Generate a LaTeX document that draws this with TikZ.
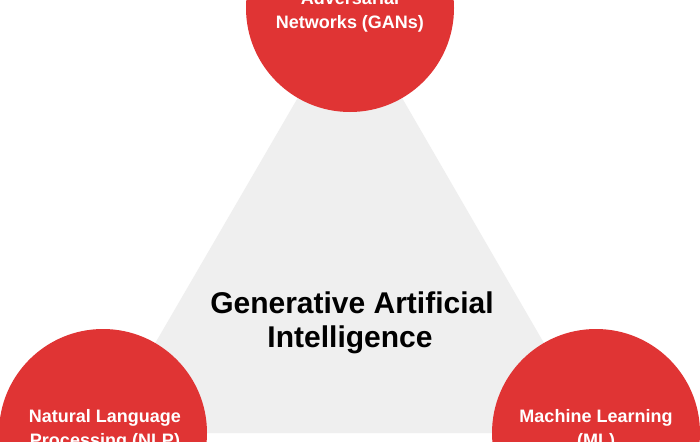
\documentclass[tikz,border=0pt]{standalone}
\usepackage{fontspec}
\setmainfont{Liberation Sans}
\definecolor{redc}{HTML}{E03434}
\definecolor{grayc}{HTML}{EFEFEF}
\begin{document}
\begin{tikzpicture}[x=1pt,y=-1pt,
  bubble/.style={circle,fill=redc,minimum size=208pt,inner sep=0pt},
  btext/.style={text=white,font=\bfseries\fontsize{18}{24}\selectfont,align=center},
  ctext/.style={text=black,font=\bfseries\fontsize{30}{36}\selectfont,align=center}]
\useasboundingbox (0,0) rectangle (700,441);
\clip (0,0) rectangle (700,441);
\fill[white] (0,0) rectangle (700,441);
\coordinate (A) at (350,8);
\coordinate (B) at (103,433);
\coordinate (C) at (596,433);
\fill[grayc] (A) -- (B) -- (C) -- cycle;
\node[bubble] (top) at (A) {};
\node[bubble] (left) at (B) {};
\node[bubble] (right) at (C) {};
\node[btext,anchor=base] (toptext) at (350,29) {Networks (GANs)};
\node[btext,anchor=base] (toptext0) at (350,5) {Adversarial};
\node[btext,anchor=base] (lefttext) at (105,422) {Natural Language};
\node[btext,anchor=base] (lefttext2) at (105,446) {Processing (NLP)};
\node[btext,anchor=base] (righttext) at (596,422) {Machine Learning};
\node[btext,anchor=base] (righttext2) at (596,446) {(ML)};
\node[ctext,anchor=base] (center1) at (352,313) {Generative Artificial};
\node[ctext,anchor=base] (center2) at (350,347) {Intelligence};
\end{tikzpicture}
\end{document}
